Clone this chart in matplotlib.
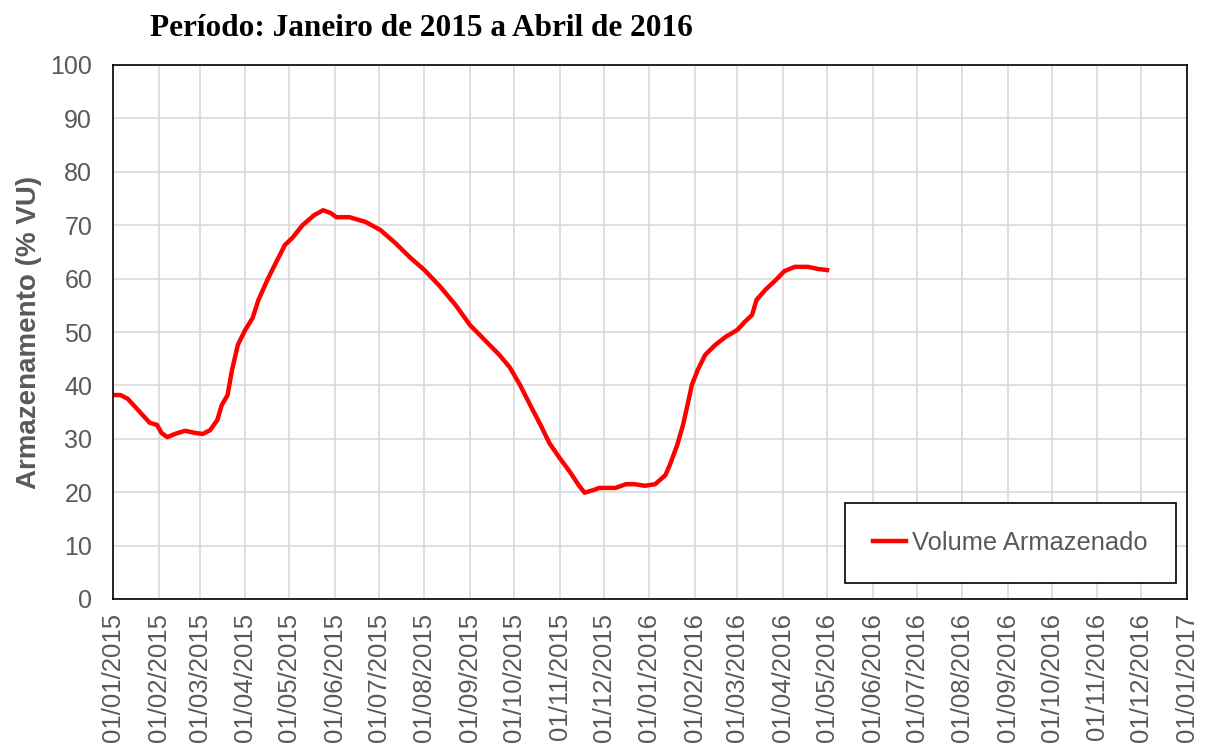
import matplotlib
matplotlib.use("Agg")
import matplotlib.pyplot as plt
import matplotlib.dates as mdates
import numpy as np

# data
dates = [
    "2015-01-01", "2015-01-06", "2015-01-11", "2015-01-16", "2015-01-23", "2015-01-26",
    "2015-01-31", "2015-02-03", "2015-02-07", "2015-02-12", "2015-02-19", "2015-02-26",
    "2015-03-03", "2015-03-08", "2015-03-13", "2015-03-16", "2015-03-20", "2015-03-23",
    "2015-03-27", "2015-04-01", "2015-04-06", "2015-04-10", "2015-04-16", "2015-04-21",
    "2015-04-28", "2015-05-03", "2015-05-10", "2015-05-18", "2015-05-24", "2015-05-29",
    "2015-06-02", "2015-06-11", "2015-06-22", "2015-07-02", "2015-07-12", "2015-07-22",
    "2015-08-01", "2015-08-12", "2015-08-22", "2015-09-01", "2015-09-11", "2015-09-21",
    "2015-09-28", "2015-10-05", "2015-10-12", "2015-10-19", "2015-10-25", "2015-11-01",
    "2015-11-08", "2015-11-14", "2015-11-18", "2015-11-24", "2015-11-28", "2015-12-09",
    "2015-12-16", "2015-12-22", "2015-12-29", "2016-01-05", "2016-01-12", "2016-01-15",
    "2016-01-20", "2016-01-24", "2016-01-27", "2016-01-30", "2016-02-03", "2016-02-08",
    "2016-02-15", "2016-02-22", "2016-03-01", "2016-03-06", "2016-03-11", "2016-03-14",
    "2016-03-20", "2016-03-27", "2016-04-02", "2016-04-09", "2016-04-18", "2016-04-25",
    "2016-05-01",
]
volume = [
    38.2, 38.2, 37.5, 36.0, 33.9, 33.0,
    32.6, 31.1, 30.3, 30.9, 31.5, 31.1,
    30.9, 31.6, 33.5, 36.3, 38.2, 42.9,
    47.6, 50.4, 52.6, 56.0, 59.7, 62.5,
    66.3, 67.6, 70.0, 71.9, 72.8, 72.3,
    71.5, 71.5, 70.6, 69.1, 66.7, 64.0,
    61.6, 58.4, 55.1, 51.3, 48.5, 45.7,
    43.4, 40.1, 36.3, 32.6, 29.2, 26.4,
    23.8, 21.3, 19.9, 20.4, 20.8, 20.8,
    21.5, 21.5, 21.2, 21.5, 23.2, 25.1,
    28.8, 32.6, 36.3, 40.1, 42.9, 45.7,
    47.6, 49.1, 50.4, 51.9, 53.2, 56.0,
    57.9, 59.7, 61.4, 62.2, 62.2, 61.8,
    61.6,
]
x = np.array(dates, dtype="datetime64[D]")

grey = "#595959"
plt.rcParams["font.family"] = ["Liberation Sans", "DejaVu Sans"]

fig = plt.figure(figsize=(12.07, 7.45), dpi=100)
ax = fig.add_axes([113 / 1207, 1 - 599 / 745, 1074 / 1207, 534 / 745])

ax.plot(x, volume, color="red", linewidth=3.2, label="Volume Armazenado")

ax.set_ylim(0, 100)
ax.set_yticks(np.arange(0, 101, 10))
ax.set_xlim(np.datetime64("2015-01-01"), np.datetime64("2017-01-01"))
ax.xaxis.set_major_locator(mdates.MonthLocator())
ax.xaxis.set_major_formatter(mdates.DateFormatter("%d/%m/%Y"))
ax.tick_params(axis="x", rotation=90, length=0, labelsize=18.5, labelcolor=grey, pad=10)
ax.tick_params(axis="y", length=0, labelsize=18, labelcolor=grey, pad=15)

ax.grid(True, color="#d9d9d9", linewidth=1.2)
ax.set_axisbelow(True)
for s in ax.spines.values():
    s.set_color("black")
    s.set_linewidth(1.2)

ax.set_ylabel("Armazenamento (% VU)", fontsize=20, fontweight="bold", color=grey, labelpad=6)

leg = ax.legend(loc="lower right", bbox_to_anchor=(0.9898, 0.03), borderaxespad=0,
                fontsize=18.4, fancybox=False, edgecolor="black", framealpha=1,
                handlelength=1.3, borderpad=1.1, handletextpad=0.25)
for t in leg.get_texts():
    t.set_color(grey)
leg.get_frame().set_linewidth(1.2)

fig.text(150 / 1207, 1 - 28 / 745, "Período: Janeiro de 2015 a Abril de 2016",
         fontsize=22.5, fontweight="bold", family="Liberation Serif",
         va="center", ha="left")

fig.savefig("out.png", dpi=100)
